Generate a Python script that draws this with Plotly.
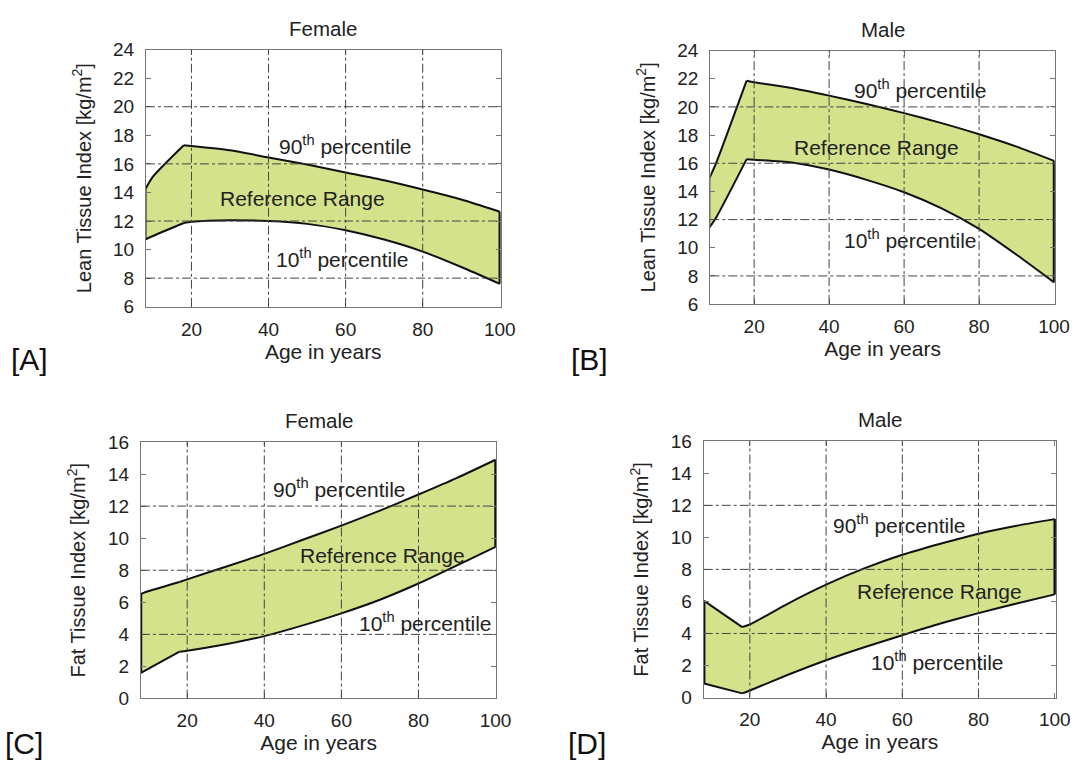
import plotly.graph_objects as go

# ---------------- data ----------------
AGES = [8, 10, 18, 20, 30, 40, 50, 60, 70, 80, 90, 100]
PEAK_AGE = 18  # age where the growth phase ends (sharp corner of the band)

LEAN_F_P90 = [14.2, 15.1, 17.3, 17.25, 16.95, 16.45, 15.95, 15.4, 14.85, 14.2, 13.5, 12.65]
LEAN_F_P10 = [10.7, 10.95, 11.86, 11.95, 12.06, 12.0, 11.8, 11.35, 10.7, 9.86, 8.78, 7.6]

LEAN_M_P90 = [14.9, 16.1, 21.86, 21.75, 21.35, 20.8, 20.2, 19.56, 18.85, 18.06, 17.18, 16.17]
LEAN_M_P10 = [11.4, 12.2, 16.29, 16.25, 16.06, 15.55, 14.82, 13.94, 12.8, 11.34, 9.5, 7.54]

FAT_F_P90 = [6.52, 6.7, 7.27, 7.43, 8.22, 9.02, 9.9, 10.78, 11.72, 12.72, 13.76, 14.89]
FAT_F_P10 = [1.6, 1.86, 2.92, 2.98, 3.38, 3.89, 4.56, 5.31, 6.16, 7.17, 8.3, 9.46]

FAT_M_P90 = [6.04, 5.71, 4.4, 4.56, 5.87, 7.05, 8.06, 8.91, 9.6, 10.23, 10.73, 11.14]
FAT_M_P10 = [0.87, 0.75, 0.26, 0.44, 1.42, 2.33, 3.14, 3.89, 4.62, 5.27, 5.87, 6.44]

X_TICKS = [20, 40, 60, 80, 100]
X_GRID = [20, 40, 60, 80]
LEAN_TICKS = [6, 8, 10, 12, 14, 16, 18, 20, 22, 24]
FAT_TICKS = [0, 2, 4, 6, 8, 10, 12, 14, 16]
LEAN_GRID = [8, 12, 16, 20]
FAT_GRID = [4, 8, 12]

TITLES = ["Female", "Male", "Female", "Male"]
PANEL_TAGS = ["[A]", "[B]", "[C]", "[D]"]
LEAN_TITLE = "Lean Tissue Index [kg/m<sup>2</sup>]"
FAT_TITLE = "Fat Tissue Index [kg/m<sup>2</sup>]"
X_TITLE = "Age in years"
BAND_TEXTS = ["90<sup>th</sup> percentile", "Reference Range", "10<sup>th</sup> percentile"]

# ---------------- layout / style ----------------
W, H = 1086, 774
FONT = "Liberation Sans, Arial, sans-serif"
FILL = "#d4e28b"
TXT = "#222222"
FRAME = "#777777"
GRIDC = "#444444"
EDGE = "#111111"

panels = [
    dict(p90=LEAN_F_P90, p10=LEAN_F_P10, yt=LEAN_TICKS, grid=LEAN_GRID, ytitle=LEAN_TITLE,
         px=(148, 507.6), py=(40.7, 305), xr=(8.2, 100.2),
         lab=[(60, 17.35), (48.9, 13.6), (59.2, 9.4)], tag=(30, 359)),
    dict(p90=LEAN_M_P90, p10=LEAN_M_P10, yt=LEAN_TICKS, grid=LEAN_GRID, ytitle=LEAN_TITLE,
         px=(720.2, 1069.6), py=(41.7, 302.3), xr=(8.3, 100.2),
         lab=[(64.5, 21.3), (52.6, 17.1), (61.7, 10.6)], tag=(598, 359)),
    dict(p90=FAT_F_P90, p10=FAT_F_P10, yt=FAT_TICKS, grid=FAT_GRID, ytitle=FAT_TITLE,
         px=(142.9, 503.3), py=(444, 707.7), xr=(8.0, 100.2),
         lab=[(59.4, 13.1), (70.6, 8.9), (81.9, 4.8)], tag=(24, 754)),
    dict(p90=FAT_M_P90, p10=FAT_M_P10, yt=FAT_TICKS, grid=FAT_GRID, ytitle=FAT_TITLE,
         px=(713.6, 1070.7), py=(443.3, 706.7), xr=(7.9, 100.3),
         lab=[(59.3, 10.84), (69.7, 6.62), (69.3, 2.27)], tag=(595, 754)),
]

fig = go.Figure()
annotations = []
shapes = []
layout_axes = {}
k = AGES.index(PEAK_AGE)

for i, p in enumerate(panels):
    n = "" if i == 0 else str(i + 1)
    xa, ya = "x" + n, "y" + n
    up, lo = p["p90"], p["p10"]

    # filled band
    fig.add_trace(go.Scatter(
        x=AGES + AGES[::-1], y=up + lo[::-1],
        mode="lines", fill="toself", fillcolor=FILL, line=dict(width=0),
        xaxis=xa, yaxis=ya, showlegend=False, hoverinfo="skip"))
    # percentile curves (smooth after the growth phase)
    cx = AGES[:k + 1] + [None] + AGES[k:] + [None] + AGES[:k + 1] + [None] + AGES[k:]
    cy = up[:k + 1] + [None] + up[k:] + [None] + lo[:k + 1] + [None] + lo[k:]
    fig.add_trace(go.Scatter(
        x=cx, y=cy, mode="lines", line=dict(color=EDGE, width=2, shape="spline", smoothing=0.6),
        connectgaps=False, xaxis=xa, yaxis=ya, showlegend=False, hoverinfo="skip"))
    # closing vertical edges of the band
    fig.add_trace(go.Scatter(
        x=[AGES[0], AGES[0], None, AGES[-1], AGES[-1]],
        y=[up[0], lo[0], None, up[-1], lo[-1]],
        mode="lines", line=dict(color=EDGE, width=2.6), connectgaps=False,
        xaxis=xa, yaxis=ya, showlegend=False, hoverinfo="skip"))

    xd = [p["px"][0] / W, p["px"][1] / W]
    yd = [1 - p["py"][1] / H, 1 - p["py"][0] / H]
    ymin, ymax = p["yt"][0], p["yt"][-1]
    common = dict(showline=True, linecolor=FRAME, linewidth=1, mirror="allticks",
                  ticks="inside", ticklen=5, tickcolor=FRAME, showgrid=False, zeroline=False,
                  tickfont=dict(family=FONT, size=19, color=TXT))
    layout_axes["xaxis" + n] = dict(domain=xd, range=list(p["xr"]), anchor=ya,
                                    tickvals=X_TICKS, ticklabelstandoff=5,
                                    title=dict(text=X_TITLE, font=dict(family=FONT, size=21, color=TXT), standoff=4),
                                    **common)
    layout_axes["yaxis" + n] = dict(domain=yd, range=[ymin, ymax], anchor=xa,
                                    tickvals=p["yt"], ticklabelstandoff=7,
                                    title=dict(text=p["ytitle"], font=dict(family=FONT, size=20, color=TXT), standoff=16),
                                    **common)

    # dash-dot grid drawn above the band
    for g in p["grid"]:
        shapes.append(dict(type="line", xref=xa + " domain", yref=ya, x0=0, x1=1, y0=g, y1=g,
                           line=dict(color=GRIDC, width=1, dash="dashdot"), layer="above"))
    for g in X_GRID:
        shapes.append(dict(type="line", xref=xa, yref=ya + " domain", x0=g, x1=g, y0=0, y1=1,
                           line=dict(color=GRIDC, width=1, dash="dashdot"), layer="above"))

    # panel title
    annotations.append(dict(text=TITLES[i], xref=xa + " domain", yref=ya + " domain",
                            x=0.5, y=1, yshift=8, xanchor="center", yanchor="bottom", showarrow=False,
                            font=dict(family=FONT, size=20.5, color=TXT)))
    # in-plot labels
    for t, (lx, ly) in zip(BAND_TEXTS, p["lab"]):
        annotations.append(dict(text=t, xref=xa, yref=ya, x=lx, y=ly, showarrow=False,
                                xanchor="center", yanchor="middle",
                                font=dict(family=FONT, size=21, color=TXT)))
    # panel tag
    annotations.append(dict(text=PANEL_TAGS[i], xref="paper", yref="paper",
                            x=p["tag"][0] / W, y=1 - p["tag"][1] / H, showarrow=False,
                            xanchor="center", yanchor="middle",
                            font=dict(family=FONT, size=30, color="#111111")))

fig.update_layout(
    width=W, height=H, margin=dict(l=0, r=0, t=0, b=0),
    paper_bgcolor="white", plot_bgcolor="white",
    annotations=annotations, shapes=shapes, **layout_axes)

fig.write_html("out.html")
